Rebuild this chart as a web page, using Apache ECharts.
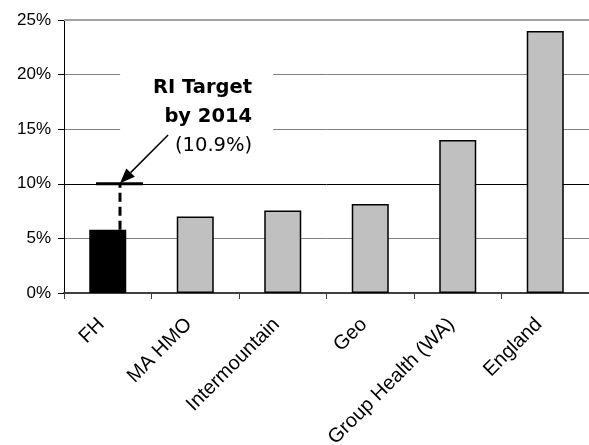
<!DOCTYPE html>
<html>
<head>
<meta charset="utf-8">
<script src="https://cdn.jsdelivr.net/npm/echarts@6/dist/echarts.min.js"></script>
<style>
html,body{margin:0;padding:0;background:#fff;}
#c{width:589px;height:445px;}
</style>
</head>
<body>
<div id="c"></div>
<script>
const categories = ['FH', 'MA HMO', 'Intermountain', 'Geo', 'Group Health (WA)', 'England'];
const values = [5.8, 7.0, 7.55, 8.15, 14.0, 24.0];
const yTicks = [0, 5, 10, 15, 20, 25];
const targetValue = 10;
const targetLabel = ['RI Target', 'by 2014', '(10.9%)'];
// target marker positions in category units (0 = centre of first category)
const targetCap = [[-0.134, 10], [0.403, 10]];
const targetDrop = [[0.14, 5.8], [0.14, 10]];
const arrowLine = [[0.69, 14.47], [0.14, 10.05]];
const labelAnchor = [1.65, 20.1];

const chart = echarts.init(document.getElementById('c'));
const grid = {left: 64, right: 0, top: 20, bottom: 152, containLabel: false, outerBoundsMode: 'none'};

chart.setOption({
  animation: false,
  grid: grid,
  xAxis: [{
    type: 'category',
    data: categories,
    axisLine: {show: true, onZero: false, lineStyle: {color: '#404040', width: 2}},
    axisTick: {show: true, length: 6, lineStyle: {color: '#404040'}},
    axisLabel: {rotate: 45, margin: 22, interval: 0, padding: [0, 9, 0, 0], color: '#000', fontFamily: 'Liberation Sans', fontSize: 20}
  }, {
    type: 'value', min: -0.5, max: 5.5, show: false
  }],
  yAxis: {
    type: 'value', min: 0, max: 25, interval: 5,
    axisLine: {show: true, onZero: false, lineStyle: {color: '#000', width: 1}},
    axisTick: {show: true, length: 6, lineStyle: {color: '#000'}},
    axisLabel: {formatter: v => yTicks.includes(v) ? v + '%' : '', margin: 13, color: '#000', fontFamily: 'Liberation Sans', fontSize: 17},
    splitLine: {show: true, lineStyle: {color: ['#808080', '#808080', '#000', '#808080', '#808080', '#a0a0a0'], width: 1}}
  },
  series: [{
    type: 'bar',
    data: values.map((v, i) => ({value: v, itemStyle: {color: i === 0 ? '#000' : '#c0c0c0'}})),
    barWidth: 37,
    itemStyle: {borderColor: '#000', borderWidth: 1.5},
    markLine: {
      silent: true, symbol: 'none', label: {show: false},
      data: [{yAxis: 25, lineStyle: {color: '#a0a0a0', width: 2, type: 'solid'}}]
    }
  }, {
    type: 'line', xAxisIndex: 1, data: targetCap, symbol: 'none',
    lineStyle: {color: '#000', width: 3}, z: 5
  }, {
    type: 'line', xAxisIndex: 1, data: targetDrop, symbol: 'none',
    lineStyle: {color: '#000', width: 3, type: [9, 5]}, z: 5
  }]
});

const ap = chart.convertToPixel({xAxisIndex: 1, yAxisIndex: 0}, labelAnchor);
const a0 = chart.convertToPixel({xAxisIndex: 1, yAxisIndex: 0}, arrowLine[0]);
const a1 = chart.convertToPixel({xAxisIndex: 1, yAxisIndex: 0}, arrowLine[1]);
const ang = Math.atan2(a1[1] - a0[1], a1[0] - a0[0]);
const hl = 15, hw = 6;
const bx = a1[0] - hl * Math.cos(ang), by = a1[1] - hl * Math.sin(ang);
const px = -Math.sin(ang) * hw, py = Math.cos(ang) * hw;

chart.setOption({
  graphic: [{
    type: 'rect', z: 10,
    shape: {x: ap[0] - 132, y: ap[1] - 4, width: 153, height: 90},
    style: {fill: '#fff'}
  }, {
    type: 'text', z: 11, x: ap[0], y: ap[1],
    style: {
      text: '{b|' + targetLabel[0] + '}\n{b|' + targetLabel[1] + '}\n{n|' + targetLabel[2] + '}',
      align: 'right', verticalAlign: 'top',
      rich: {
        b: {fontFamily: 'DejaVu Sans', fontWeight: 'bold', fontSize: 19.5, lineHeight: 29, fill: '#000', align: 'right'},
        n: {fontFamily: 'DejaVu Sans', fontSize: 19.5, lineHeight: 29, fill: '#000', align: 'right'}
      }
    }
  }, {
    type: 'line', z: 12,
    shape: {x1: a0[0], y1: a0[1], x2: bx, y2: by},
    style: {stroke: '#000', lineWidth: 1.5}
  }, {
    type: 'polygon', z: 12,
    shape: {points: [[a1[0], a1[1]], [bx + px, by + py], [bx - px, by - py]]},
    style: {fill: '#000'}
  }]
});
</script>
</body>
</html>
